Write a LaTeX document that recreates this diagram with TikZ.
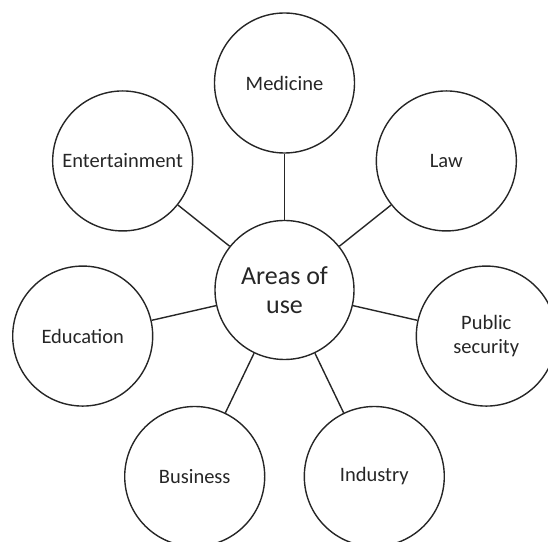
\documentclass[tikz,border=0pt]{standalone}
\usepackage{fontspec}
\setmainfont{Carlito}
\usetikzlibrary{calc}
\begin{document}
\begin{tikzpicture}[x=1pt,y=1pt,
  area/.style={draw=black!85, line width=1.4pt, circle, minimum size=140pt, inner sep=0pt, align=center, font=\fontsize{20.5}{24}\selectfont, text=black!85},
  hub/.style={area, minimum size=139pt, font=\fontsize{26}{28.5}\selectfont},
  link/.style={draw=black!85, line width=1.4pt}]
\useasboundingbox (0,0) rectangle (548,541);
\node[hub] (c) at (284.5,251) {Areas of\\use};
\node[area] (med) at ($(c)+(90:207)$) {Medicine};
\node[area] (law) at ($(c)+(38.57:207)$) {Law};
\node[area] (pub) at ($(c)+(-12.86:207)$) {Public\\security};
\node[area] (ind) at ($(c)+(-64.29:207)$) {Industry};
\node[area] (bus) at ($(c)+(-115.71:207)$) {Business};
\node[area] (edu) at ($(c)+(-167.14:207)$) {Education};
\node[area] (ent) at ($(c)+(141.43:207)$) {Entertainment};
\foreach \n in {med,law,pub,ind,bus,edu,ent} \draw[link] (c) -- (\n);
\end{tikzpicture}
\end{document}
